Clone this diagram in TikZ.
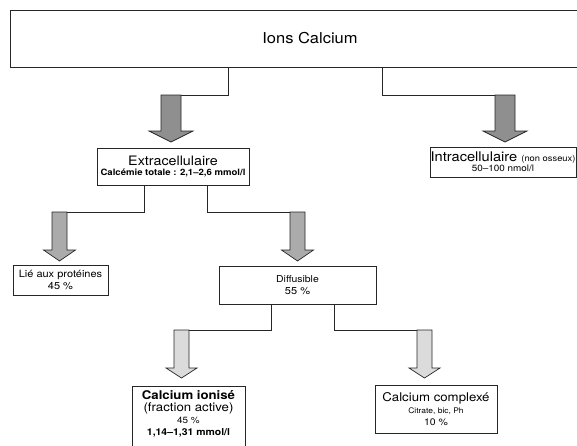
\documentclass[tikz,border=0pt]{standalone}
\usepackage{fontspec}
\setmainfont[FakeStretch=1.1]{TeX Gyre Heros}
\usetikzlibrary{positioning}

\definecolor{darkshade}{gray}{0.56}
\definecolor{midshade}{gray}{0.67}
\definecolor{lightshade}{gray}{0.86}

\tikzset{
  box/.style={draw=black!85, line width=0.7pt, fill=white, align=center, inner sep=0pt},
  link/.style={draw=black!85, line width=0.7pt},
  pics/blockarrow/.style args={#1/#2/#3/#4/#5}{code={
    \draw[link, fill=#5] (-#1/2,0) -- (#1/2,0) -- (#1/2,#2) -- (#3/2,#2) -- (0,#2+#4)
      -- (-#3/2,#2) -- (-#1/2,#2) -- cycle;
  }}
}

\begin{document}
\begin{tikzpicture}[x=1pt, y=-1pt]
  \useasboundingbox (0,0) rectangle (577,445);

  % boxes
  \node[box, minimum width=600pt, minimum height=57pt] (ions) at (310,38.5)
    {\fontsize{15}{18}\selectfont Ions Calcium};
  \node[box, minimum width=152pt, minimum height=37pt] (extra) at (173,166.5)
    {\fontsize{13}{14}\selectfont Extracellulaire\\[-2pt]
     \fontsize{8.7}{10}\selectfont\bfseries Calcémie totale : 2,1–2,6 mmol/l};
  \node[box, minimum width=146pt, minimum height=30pt] (intra) at (503,162)
    {\fontsize{13.3}{14}\selectfont Intracellulaire {\fontsize{8.5}{10}\selectfont (non osseux)}\\[-2pt]
     \fontsize{9}{10}\selectfont 50–100 nmol/l};
  \node[box, minimum width=95pt, minimum height=30pt] (lie) at (60.5,280)
    {\fontsize{10}{12}\selectfont Lié aux protéines\\ 45 \%};
  \node[box, minimum width=157pt, minimum height=38pt] (diff) at (297.5,285)
    {\fontsize{9.5}{12}\selectfont Diffusible\\ 55 \%};
  \node[box, minimum width=113pt, anchor=north, inner ysep=4pt] (ionise) at (188.5,386)
    {\fontsize{12}{12}\selectfont\bfseries Calcium ionisé\\
     \fontsize{12}{12}\selectfont (fraction active)\\
     \fontsize{9}{13}\selectfont 45 \%\\
     \fontsize{9.5}{11}\selectfont\bfseries 1,14–1,31 mmol/l\rule[-20pt]{0pt}{0pt}};
  \node[box, minimum width=122pt, minimum height=48pt] (compl) at (436,409)
    {\fontsize{12}{13}\selectfont Calcium complexé\\
     \fontsize{7.7}{11}\selectfont Citrate, bic, Ph\\
     \fontsize{9.5}{13}\selectfont 10 \%};

  % first level
  \coordinate (ar1) at (181,95);
  \coordinate (ar2) at (515,95);
  \draw[link] ([xshift=-82pt]ions.south) |- (ar1);
  \draw[link] ([xshift=72pt]ions.south) |- (ar2);
  \pic at (171,95) {blockarrow=20/36/44/11/darkshade};
  \pic at (505,95) {blockarrow=20/36/44/11/darkshade};

  % second level
  \coordinate (ar3) at (67,212);
  \coordinate (ar4) at (305,212);
  \draw[link] ([xshift=-29pt]extra.south) |- (ar3);
  \draw[link] ([xshift=34pt]extra.south) |- (ar4);
  \pic at (59.5,212) {blockarrow=15/38/32/11/midshade};
  \pic at (297.5,212) {blockarrow=15/38/32/11/midshade};

  % third level
  \coordinate (ar5) at (189,330);
  \coordinate (ar6) at (432,330);
  \draw[link] ([xshift=-26.5pt]diff.south) |- (ar5);
  \draw[link] ([xshift=36.5pt]diff.south) |- (ar6);
  \pic at (181.5,330) {blockarrow=15/38/31/10/lightshade};
  \pic at (424.5,330) {blockarrow=15/38/31/10/lightshade};
\end{tikzpicture}
\end{document}
